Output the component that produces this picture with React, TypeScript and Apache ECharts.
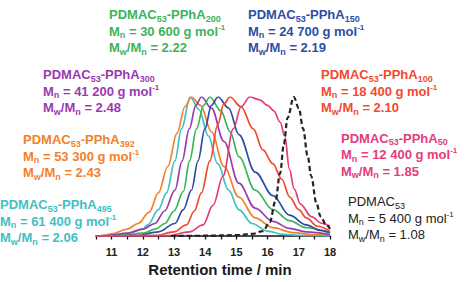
import React, { useEffect, useRef } from "react";
import * as echarts from "echarts";

// GPC traces (normalised RI response vs retention time in min)
const trace495: [number, number][] = [[10.5,0],[10.8,0.002],[11.5,0.015],[12.0,0.05],[12.16,0.08],[12.5,0.19],[12.76,0.31],[13.03,0.54],[13.24,0.77],[13.52,1.0],[13.8,0.91],[14.1,0.72],[14.4,0.52],[14.75,0.33],[15.08,0.19],[15.5,0.09],[16.0,0.035],[16.5,0.012],[17.0,0.005],[18.0,0]];
const trace392: [number, number][] = [[10.5,0],[10.7,0.003],[11.0,0.015],[11.5,0.05],[11.85,0.09],[12.2,0.17],[12.5,0.31],[12.8,0.5],[13.1,0.74],[13.35,0.93],[13.56,1.0],[13.85,0.94],[14.2,0.75],[14.6,0.5],[15.08,0.28],[15.6,0.13],[16.17,0.06],[16.8,0.025],[17.5,0.01],[18.0,0.004]];
const trace300: [number, number][] = [[10.5,0],[10.9,0.003],[11.5,0.02],[12.0,0.05],[12.39,0.09],[12.7,0.18],[13.03,0.33],[13.26,0.54],[13.49,0.77],[13.7,0.94],[13.88,1.0],[14.2,0.92],[14.6,0.68],[15.08,0.38],[15.6,0.2],[16.17,0.105],[16.7,0.055],[17.24,0.03],[18.0,0.01]];
const trace200: [number, number][] = [[10.5,0],[11.3,0.003],[12.0,0.02],[12.4,0.05],[12.71,0.09],[13.0,0.18],[13.3,0.32],[13.5,0.54],[13.72,0.77],[13.95,0.94],[14.15,1.0],[14.5,0.9],[14.8,0.75],[15.08,0.57],[15.6,0.33],[16.17,0.19],[16.7,0.11],[17.24,0.06],[18.0,0.02]];
const trace150: [number, number][] = [[10.5,0],[11.8,0.003],[12.5,0.03],[13.03,0.09],[13.3,0.19],[13.56,0.33],[13.77,0.54],[13.99,0.77],[14.2,0.94],[14.41,1.0],[14.75,0.92],[15.08,0.73],[15.6,0.46],[16.17,0.29],[16.7,0.15],[17.24,0.08],[17.7,0.04],[18.0,0.025]];
const trace100: [number, number][] = [[10.5,0],[12.4,0.003],[13.0,0.03],[13.4,0.08],[13.65,0.18],[13.88,0.31],[14.15,0.54],[14.4,0.8],[14.6,0.95],[14.79,1.0],[15.15,0.93],[15.54,0.77],[15.85,0.62],[16.17,0.52],[16.45,0.41],[16.71,0.28],[17.0,0.19],[17.24,0.13],[17.6,0.07],[18.0,0.035]];
const trace50: [number, number][] = [[10.5,0],[12.8,0.003],[13.5,0.03],[13.93,0.08],[14.25,0.22],[14.57,0.43],[14.9,0.77],[15.15,0.93],[15.43,1.0],[15.75,0.98],[16.0,0.94],[16.2,0.9],[16.4,0.82],[16.55,0.72],[16.7,0.48],[16.85,0.34],[17.05,0.23],[17.4,0.14],[17.75,0.09],[18.0,0.07]];
const traceMacro: [number, number][] = [[12.9,0],[14.0,0.002],[15.0,0.006],[15.5,0.015],[15.85,0.035],[16.07,0.1],[16.25,0.25],[16.4,0.45],[16.52,0.66],[16.64,0.85],[16.84,1.0],[17.0,0.92],[17.14,0.77],[17.28,0.58],[17.4,0.43],[17.56,0.24],[17.7,0.14],[17.88,0.08],[18.0,0.05]];

// Sample descriptions
const dpValues = ["495", "392", "300", "200", "150", "100", "50", ""];
const mnValues = ["61 400", "53 300", "41 200", "30 600", "24 700", "18 400", "12 400", "5 400"];
const dispersities = ["2.06", "2.43", "2.48", "2.22", "2.19", "2.10", "1.85", "1.08"];
const traces = [trace495, trace392, trace300, trace200, trace150, trace100, trace50, traceMacro];

// Axis ticks
const tickLabels = ["11", "12", "13", "14", "15", "16", "17", "18"];
const axisTitle = "Retention time / min";

const colors = ["#3fc1c4", "#f3812b", "#9a3aae", "#3bb45a", "#2d4ea6", "#f2492f", "#e23d7c", "#222222"];
// top-left anchor of each description block
const labelPos: [number, number][] = [
  [0, 196.5], [23, 131.5], [43, 66.5], [109, 6.5], [248, 6.5], [321, 66.5], [341, 130], [348, 193.5],
];

function buildLabel(i: number) {
  const c = colors[i];
  const bold = i === 7 ? "normal" : "bold";
  const base = { fontFamily: "Liberation Sans", fontWeight: bold, fill: c };
  const rich = {
    t: { ...base, fontSize: 13, lineHeight: 16.5 },
    s: { ...base, fontSize: 9, lineHeight: 11, verticalAlign: "bottom" },
    p: { ...base, fontSize: 8, lineHeight: 11, verticalAlign: "top" },
  };
  const line1 = dpValues[i]
    ? `{t|PDMAC}{s|53}{t|-PPhA}{s|${dpValues[i]}}`
    : `{t|PDMAC}{s|53}`;
  const line2 = `{t|M}{s|n}{t| = ${mnValues[i]} g mol}{p|-1}`;
  const line3 = `{t|M}{s|w}{t|/M}{s|n}{t| = ${dispersities[i]}}`;
  return {
    type: "text",
    x: labelPos[i][0],
    y: labelPos[i][1],
    silent: true,
    style: {
      text: [line1, line2, line3].join("\n"),
      rich,
      verticalAlign: "top",
      align: "left",
    },
  };
}

export default function App() {
  const ref = useRef<HTMLDivElement>(null);
  useEffect(() => {
    if (!ref.current) return;
    const chart = echarts.init(ref.current, undefined, { renderer: "svg" });
    chart.setOption({
      animation: false,
      backgroundColor: "#ffffff",
      grid: { left: 96, right: 145, top: 97, bottom: 40 },
      xAxis: {
        type: "value",
        min: 10.5,
        max: 18,
        interval: 0.5,
        name: axisTitle,
        nameLocation: "middle",
        nameGap: 26,
        nameTextStyle: { fontFamily: "Liberation Sans", fontWeight: "bold", fontSize: 15, color: "#1a1a1a", padding: [0, 0, 0, 14] },
        axisLine: { lineStyle: { color: "#111", width: 1.5 } },
        axisTick: { show: true, inside: false, length: 3.5, lineStyle: { color: "#111", width: 1.3 } },
        splitLine: { show: false },
        axisLabel: {
          fontFamily: "Liberation Sans",
          fontWeight: "bold",
          fontSize: 11,
          color: "#222",
          margin: 10,
          formatter: (v: number) => {
            const s = String(v);
            return tickLabels.includes(s) ? s : "";
          },
        },
      },
      yAxis: { type: "value", min: 0, max: 1, show: false },
      series: traces.map((d, i) => ({
        type: "line",
        data: d,
        showSymbol: false,
        smooth: 0.35,
        smoothMonotone: "x",
        z: i === 7 ? 10 : 2 + i,
        lineStyle: {
          color: colors[i],
          width: i === 7 ? 2.2 : 1.7,
          type: i === 7 ? [5, 3] : "solid",
        },
      })),
      graphic: colors.map((_, i) => buildLabel(i)),
    });
    return () => chart.dispose();
  }, []);
  return (
    <div
      ref={ref}
      style={{ position: "fixed", left: 0, top: 0, width: 475, height: 282, background: "#fff" }}
    />
  );
}
